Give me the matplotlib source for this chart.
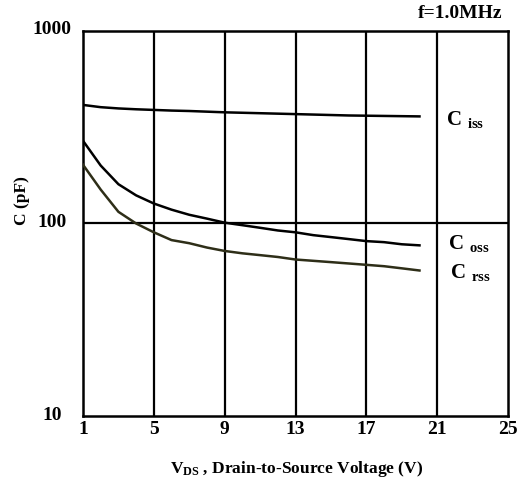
import numpy as np
import matplotlib
matplotlib.use("Agg")
import matplotlib.pyplot as plt
from matplotlib.transforms import ScaledTranslation

# capacitance vs drain-source voltage
vds = [1, 2, 3, 4, 5, 6, 7, 8, 9, 10, 11, 12, 13, 14, 15, 16, 17, 18, 19, 20]
ciss = [413, 402, 396, 392, 389, 386, 384, 381, 378, 376, 374, 372, 370, 368, 366, 364, 363, 362, 361, 360]
coss = [269, 200, 160, 140, 127, 118, 111, 106, 101, 98, 95, 92, 90, 87, 85, 83, 81, 80, 78, 77]
crss = [202, 150, 115, 100, 90, 82, 79, 75, 72, 70, 68.5, 67, 65, 64, 63, 62, 61, 60, 58.5, 57]

x_ticks = [1, 5, 9, 13, 17, 21, 25]
y_ticks = [10, 100, 1000]

plt.rcParams["font.family"] = ["Liberation Serif", "DejaVu Serif"]
plt.rcParams["font.weight"] = "bold"
plt.rcParams["mathtext.fontset"] = "custom"
plt.rcParams["mathtext.rm"] = "Liberation Serif:bold"
plt.rcParams["mathtext.it"] = "Liberation Serif:bold"
plt.rcParams["mathtext.bf"] = "Liberation Serif:bold"

fig = plt.figure(figsize=(5.2, 4.89), dpi=100)
ax = fig.add_axes([0.1596, 0.1472, 0.8174, 0.7874])

ax.set_yscale("log")
ax.set_xlim(1, 25)
ax.set_ylim(10, 1000)

# grid lines
for gx in x_ticks[1:-1]:
    ax.axvline(gx, color="black", lw=1.6, zorder=1)
ax.axhline(100, color="black", lw=1.6, zorder=1)

ax.plot(vds, ciss, color="black", lw=1.8, zorder=3)
ax.plot(vds, coss, color="black", lw=1.8, zorder=3)
ax.plot(vds, crss, color="#2e2e18", lw=1.8, zorder=3)

ax.set_xticks(x_ticks)
ax.set_xticklabels([str(t) for t in x_ticks])
ax.set_yticks(y_ticks)
ax.set_yticklabels([str(t) for t in y_ticks])
ax.yaxis.set_minor_locator(matplotlib.ticker.NullLocator())
ax.tick_params(length=0, labelsize=14, pad=3)
ax.tick_params(axis="y", pad=22)
# y labels in the reference are centred on one column, a little above their line
shift = ScaledTranslation(0, 4 / 100, fig.dpi_scale_trans)
for lab in ax.get_yticklabels():
    lab.set_horizontalalignment("center")
    lab.set_transform(lab.get_transform() + shift)

for sp in ax.spines.values():
    sp.set_linewidth(1.8)

ax.text(21.5, 349, r"$\mathrm{C}\ {}_{\mathrm{iss}}$", fontsize=15, va="center")
ax.text(21.6, 80, r"$\mathrm{C}\ {}_{\mathrm{oss}}$", fontsize=15, va="center")
ax.text(21.7, 56, r"$\mathrm{C}\ {}_{\mathrm{rss}}$", fontsize=15, va="center")

fig.text(0.967, 0.972, "f=1.0MHz", fontsize=14, fontweight="bold", ha="right", va="center")
fig.text(0.043, 0.59, "C (pF)", fontsize=12.5, fontweight="bold", rotation=90, ha="center", va="center")
fig.text(0.57, 0.04, r"$\mathrm{V}_{\mathrm{DS}}$ , Drain-to-Source Voltage (V)", fontsize=12.5,
         fontweight="bold", ha="center", va="center")

fig.savefig("out.png", dpi=100)
